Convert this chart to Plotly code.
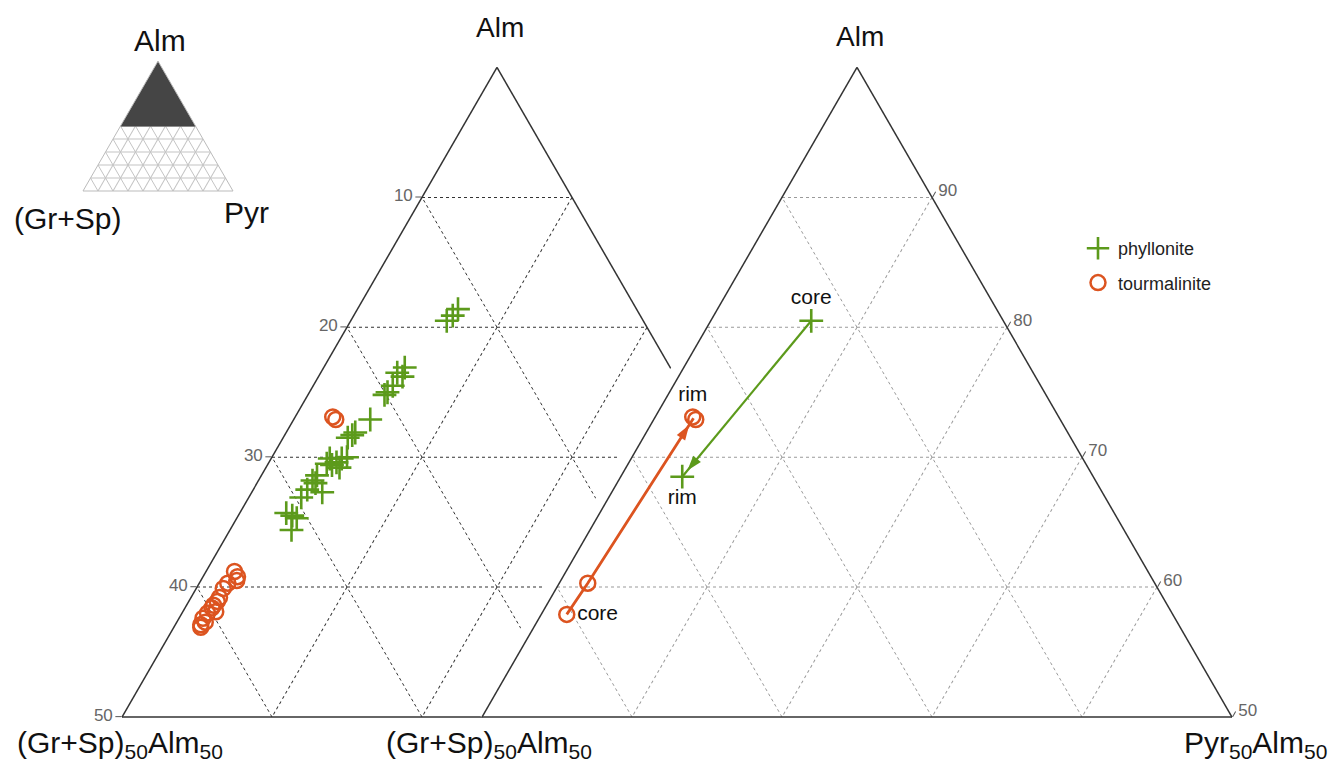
import math
import plotly.graph_objects as go

W, H = 1332, 762

# Garnet compositions (mol %): Alm = almandine, GrSp = grossular + spessartine, Pyr = pyrope
phyl_alm = [81.4, 80.9, 80.5, 76.9, 76.5, 76.2, 75.5, 75.0, 74.8, 72.9, 71.9, 71.7, 71.5,
            70.0, 69.9, 69.6, 69.9, 69.5, 69.4, 69.2, 68.6, 68.2, 68.0, 67.5, 67.3, 66.9,
            65.7, 65.5, 65.3, 64.4]
phyl_grsp = [11.9, 12.5, 13.1, 17.7, 18.4, 18.2, 19.2, 19.8, 20.1, 22.0, 23.5, 23.8, 24.2,
             25.0, 25.4, 25.9, 26.2, 26.6, 26.3, 25.9, 27.7, 28.2, 28.1, 28.9, 28.0, 29.6,
             31.2, 30.9, 30.7, 31.5]
phyl_pyr = [6.7, 6.6, 6.4, 5.4, 5.1, 5.6, 5.3, 5.2, 5.1, 5.1, 4.6, 4.5, 4.3,
            5.0, 4.7, 4.5, 3.9, 3.9, 4.3, 4.9, 3.7, 3.6, 3.9, 3.6, 4.7, 3.5,
            3.1, 3.6, 4.0, 4.1]

tour_alm = [73.1, 72.9, 61.2, 60.8, 60.5, 60.3, 59.9, 59.2, 58.9, 58.6, 58.4, 58.1,
            58.0, 57.6, 57.3, 57.1, 56.9]
tour_grsp = [24.4, 24.3, 36.9, 36.9, 37.1, 37.8, 38.3, 38.9, 39.2, 39.6, 39.8, 39.7,
             40.3, 40.8, 40.8, 41.2, 41.3]
tour_pyr = [2.5, 2.8, 1.9, 2.3, 2.4, 1.9, 1.8, 1.9, 1.9, 1.8, 1.8, 2.2,
            1.7, 1.6, 1.9, 1.7, 1.8]

# Core -> rim zoning paths (averages)
phyl_zone_alm = [80.5, 68.5]
phyl_zone_grsp = [12.8, 27.4]
phyl_zone_pyr = [6.7, 4.1]
phyl_zone_text = ["core", "rim"]

tour_core_alm = [57.9, 60.3]
tour_core_grsp = [40.4, 37.8]
tour_core_pyr = [1.7, 1.9]
tour_rim_alm = [73.1, 72.9]
tour_rim_grsp = [24.4, 24.3]
tour_rim_pyr = [2.5, 2.8]
tour_path_alm = [57.9, 60.3, 73.0]
tour_path_grsp = [40.4, 37.8, 24.4]
tour_path_pyr = [1.7, 1.9, 2.6]

# Inset: full ternary with the Alm >= 50 field shaded
field_alm = [100, 50, 50, 100]
field_grsp = [0, 50, 0, 0]
field_pyr = [0, 0, 50, 0]

# Tick labels
left_tickvals = [90, 80, 70, 60, 50]
left_ticktext = ["10", "20", "30", "40", "50"]
right_tickvals = [10, 20, 30, 40, 50]
right_ticktext = ["90", "80", "70", "60", "50"]
grid_vals = [10, 20, 30, 40]
grid_vals_a = [90, 80, 70, 60]

GREEN = "#5c9a1b"
ORANGE = "#dc5420"
FONT = "Liberation Sans, Arial, sans-serif"


def tri_domain(x_left, y_base, side):
    h = side * math.sqrt(3) / 2
    cx = x_left + side / 2
    cy = y_base - h / 2
    hh = h / 2 + 6
    return dict(x=[(cx - side / 2) / W, (cx + side / 2) / W],
                y=[1 - (cy + hh) / H, 1 - (cy - hh) / H])


def axis(**kw):
    base = dict(title=dict(text=""), showticklabels=False, ticks="", showgrid=False,
                showline=True, linecolor="#333", linewidth=1.5, layer="above traces")
    base.update(kw)
    return base


def path_with_arrow(a, b, c, color, width):
    """Connecting line through all points plus an arrowhead pointing at the last one."""
    fig.add_trace(go.Scatterternary(
        subplot="ternary3", a=a, b=b, c=c, mode="lines", showlegend=False,
        line=dict(color=color, width=width), hoverinfo="skip"))
    fig.add_trace(go.Scatterternary(
        subplot="ternary3", a=a[-2:], b=b[-2:], c=c[-2:], mode="markers", showlegend=False,
        marker=dict(symbol="arrow", size=16, color=color, opacity=[0, 1],
                    angleref="previous", standoff=8), hoverinfo="skip"))


fig = go.Figure()

# ---- left panel: all analyses ----
fig.add_trace(go.Scatterternary(
    subplot="ternary", a=phyl_alm, b=phyl_grsp, c=phyl_pyr, mode="markers",
    name="phyllonite", legendgroup="p",
    marker=dict(symbol="cross-thin-open", size=17, color=GREEN,
                line=dict(color=GREEN, width=2.6))))
fig.add_trace(go.Scatterternary(
    subplot="ternary", a=tour_alm, b=tour_grsp, c=tour_pyr, mode="markers",
    name="tourmalinite", legendgroup="t",
    marker=dict(symbol="circle-open", size=15, color=ORANGE,
                line=dict(color=ORANGE, width=2.5))))

# ---- white mask panel (no data) that hides the left panel under the right one ----
fig.add_trace(go.Scatterternary(subplot="ternary2", a=[], b=[], c=[], mode="markers",
                                showlegend=False, hoverinfo="skip"))

# ---- right panel: zoning paths ----
path_with_arrow(phyl_zone_alm, phyl_zone_grsp, phyl_zone_pyr, GREEN, 2.2)
fig.add_trace(go.Scatterternary(
    subplot="ternary3", a=phyl_zone_alm, b=phyl_zone_grsp, c=phyl_zone_pyr,
    mode="markers+text", showlegend=False, text=phyl_zone_text,
    textposition=["top center", "bottom center"],
    textfont=dict(family=FONT, size=21, color="#111"),
    marker=dict(symbol="cross-thin-open", size=17, color=GREEN,
                line=dict(color=GREEN, width=2.6))))
path_with_arrow(tour_path_alm, tour_path_grsp, tour_path_pyr, ORANGE, 2.8)
fig.add_trace(go.Scatterternary(
    subplot="ternary3", a=tour_core_alm, b=tour_core_grsp, c=tour_core_pyr,
    mode="markers+text", showlegend=False, text=["core", ""],
    textposition="middle right",
    textfont=dict(family=FONT, size=21, color="#111"),
    marker=dict(symbol="circle-open", size=15, color=ORANGE,
                line=dict(color=ORANGE, width=2.5))))
fig.add_trace(go.Scatterternary(
    subplot="ternary3", a=tour_rim_alm, b=tour_rim_grsp, c=tour_rim_pyr,
    mode="markers+text", showlegend=False, text=["rim", ""],
    textposition="top center",
    textfont=dict(family=FONT, size=21, color="#111"),
    marker=dict(symbol="circle-open", size=15, color=ORANGE,
                line=dict(color=ORANGE, width=2.5))))

# ---- inset ----
fig.add_trace(go.Scatterternary(
    subplot="ternary4", a=field_alm, b=field_grsp, c=field_pyr, mode="lines",
    fill="toself", fillcolor="#454545", line=dict(color="#454545", width=1),
    showlegend=False, hoverinfo="skip"))

dark_grid = dict(showgrid=True, gridcolor="#333", griddash="dot", gridwidth=1.3)
light_grid = dict(showgrid=True, gridcolor="#9a9a9a", griddash="dot", gridwidth=1)
tickfont = dict(family=FONT, size=17, color="#666")
inset_axis = dict(min=0, tickmode="linear", tick0=0, dtick=10, showgrid=True,
                  gridcolor="#c4c4c4", gridwidth=0.7, linecolor="#bbb", linewidth=1)

fig.update_layout(
    width=W, height=H, margin=dict(l=0, r=0, t=0, b=0),
    paper_bgcolor="white", plot_bgcolor="white",
    font=dict(family=FONT, color="#111"),
    ternary=dict(
        domain=tri_domain(122, 717, 750), sum=100, bgcolor="white",
        aaxis=axis(min=50, tickmode="array", tickvals=left_tickvals, ticktext=left_ticktext,
                   showticklabels=True, ticks="outside", ticklen=6, tickcolor="#555",
                   tickfont=tickfont, **dark_grid),
        baxis=axis(min=0, tickmode="array", tickvals=grid_vals, **dark_grid),
        caxis=axis(min=0, tickmode="array", tickvals=grid_vals, **dark_grid),
    ),
    ternary2=dict(
        domain=tri_domain(482, 717, 750), sum=100, bgcolor="white",
        aaxis=axis(min=50, linecolor="white", linewidth=22),
        baxis=axis(min=0, linecolor="white", linewidth=6),
        caxis=axis(min=0, linecolor="white", linewidth=2),
    ),
    ternary3=dict(
        domain=tri_domain(482, 717, 750), sum=100, bgcolor="rgba(0,0,0,0)",
        aaxis=axis(min=50, tickmode="array", tickvals=grid_vals_a, **light_grid),
        baxis=axis(min=0, tickmode="array", tickvals=grid_vals, **light_grid),
        caxis=axis(min=0, tickmode="array", tickvals=right_tickvals, ticktext=right_ticktext,
                   showticklabels=True, ticks="outside", ticklen=6, tickcolor="#555",
                   tickfont=tickfont, **light_grid),
    ),
    ternary4=dict(
        domain=tri_domain(83, 191, 150), sum=100, bgcolor="white",
        aaxis=axis(**inset_axis),
        baxis=axis(**inset_axis),
        caxis=axis(**inset_axis),
    ),
    legend=dict(x=1078 / W, y=1 - 230 / H, xanchor="left", yanchor="top",
                bgcolor="rgba(0,0,0,0)", font=dict(family=FONT, size=18, color="#222"),
                tracegroupgap=8, itemwidth=30),
)


def label(text, x, y, size):
    fig.add_annotation(text=text, x=x / W, y=1 - y / H, xref="paper", yref="paper",
                       showarrow=False, xanchor="center", yanchor="middle",
                       font=dict(family=FONT, size=size, color="#111"))


label("Alm", 500, 27, 28)
label("Alm", 860, 37, 28)
label("(Gr+Sp)<sub>50</sub>Alm<sub>50</sub>", 120, 744, 30)
label("(Gr+Sp)<sub>50</sub>Alm<sub>50</sub>", 489, 744, 30)
label("Pyr<sub>50</sub>Alm<sub>50</sub>", 1255, 744, 30)
label("Alm", 160, 40, 30)
label("(Gr+Sp)", 68, 218, 30)
label("Pyr", 246, 213, 30)

fig.write_html("out.html")
